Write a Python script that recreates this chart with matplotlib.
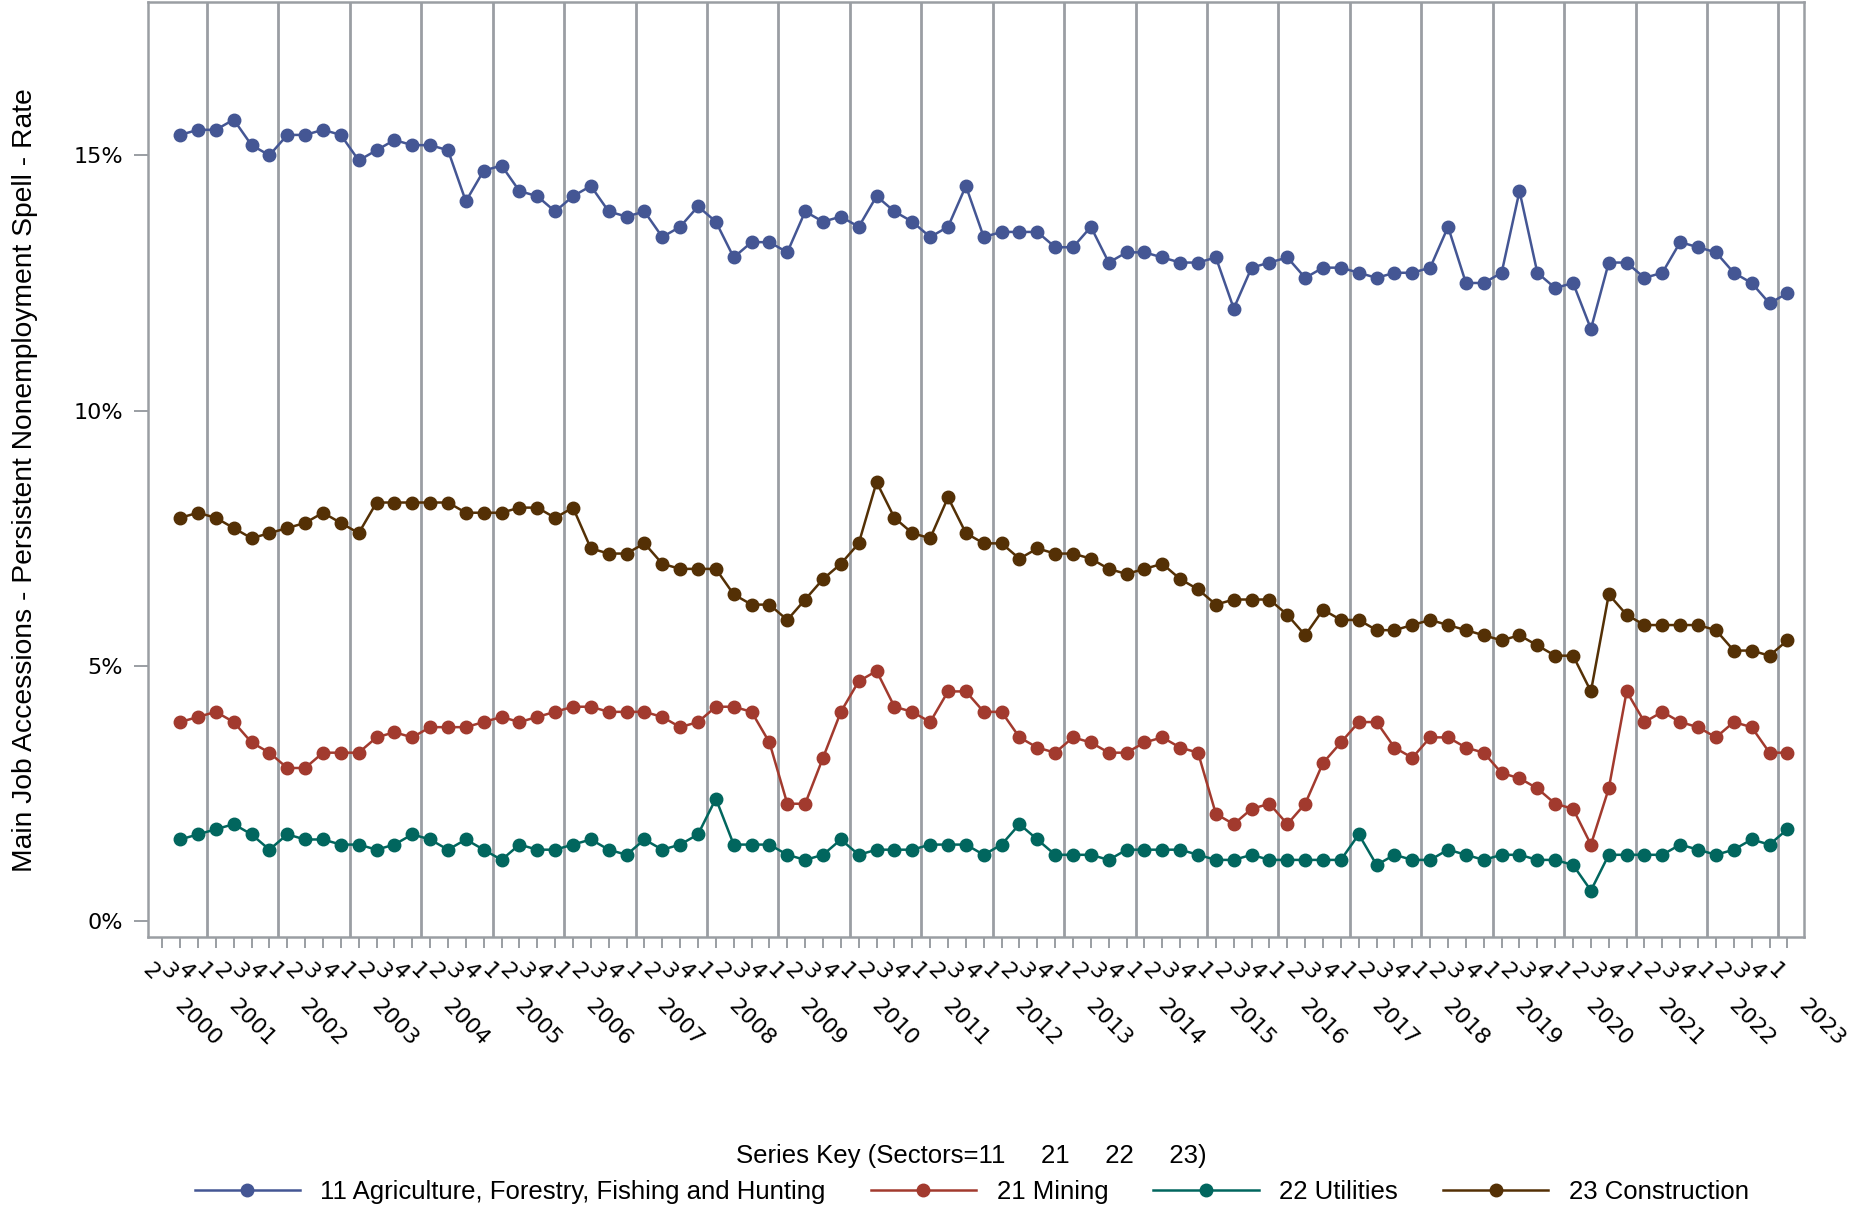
import matplotlib
matplotlib.use('Agg')
import matplotlib.pyplot as plt
from matplotlib.lines import Line2D

# Quarters shown: 2000 Q3 .. 2023 Q1 (axis also carries an empty 2000 Q2 tick)
periods = [(2000, 3), (2000, 4)] + [(y, q) for y in range(2001, 2023) for q in range(1, 5)] + [(2023, 1)]

agri = [15.4, 15.5, 15.5, 15.7, 15.2, 15.0, 15.4, 15.4, 15.5, 15.4, 14.9, 15.1, 15.3, 15.2, 15.2, 15.1,
        14.1, 14.7, 14.8, 14.3, 14.2, 13.9, 14.2,
        14.4, 13.9, 13.8, 13.9, 13.4, 13.6, 14.0, 13.7, 13.0, 13.3, 13.3, 13.1, 13.9, 13.7, 13.8, 13.6,
        14.2, 13.9, 13.7, 13.4, 13.6, 14.4, 13.4, 13.5,
        13.5, 13.5, 13.2, 13.2, 13.6, 12.9, 13.1, 13.1, 13.0, 12.9, 12.9, 13.0, 12.0, 12.8, 12.9, 13.0,
        12.6, 12.8, 12.8, 12.7, 12.6, 12.7, 12.7,
        12.8, 13.6, 12.5, 12.5, 12.7, 14.3, 12.7, 12.4, 12.5, 11.6, 12.9, 12.9, 12.6, 12.7, 13.3, 13.2,
        13.1, 12.7, 12.5, 12.1, 12.3]
mining = [3.9, 4.0, 4.1, 3.9, 3.5, 3.3, 3.0, 3.0, 3.3, 3.3, 3.3, 3.6, 3.7, 3.6, 3.8, 3.8, 3.8, 3.9,
          4.0, 3.9, 4.0, 4.1, 4.2,
          4.2, 4.1, 4.1, 4.1, 4.0, 3.8, 3.9, 4.2, 4.2, 4.1, 3.5, 2.3, 2.3, 3.2, 4.1, 4.7, 4.9, 4.2,
          4.1, 3.9, 4.5, 4.5, 4.1, 4.1,
          3.6, 3.4, 3.3, 3.6, 3.5, 3.3, 3.3, 3.5, 3.6, 3.4, 3.3, 2.1, 1.9, 2.2, 2.3, 1.9, 2.3, 3.1,
          3.5, 3.9, 3.9, 3.4, 3.2,
          3.6, 3.6, 3.4, 3.3, 2.9, 2.8, 2.6, 2.3, 2.2, 1.5, 2.6, 4.5, 3.9, 4.1, 3.9, 3.8, 3.6, 3.9,
          3.8, 3.3, 3.3]
utilities = [1.6, 1.7, 1.8, 1.9, 1.7, 1.4, 1.7, 1.6, 1.6, 1.5, 1.5, 1.4, 1.5, 1.7, 1.6, 1.4, 1.6,
             1.4, 1.2, 1.5, 1.4, 1.4, 1.5,
             1.6, 1.4, 1.3, 1.6, 1.4, 1.5, 1.7, 2.4, 1.5, 1.5, 1.5, 1.3, 1.2, 1.3, 1.6, 1.3, 1.4,
             1.4, 1.4, 1.5, 1.5, 1.5, 1.3, 1.5,
             1.9, 1.6, 1.3, 1.3, 1.3, 1.2, 1.4, 1.4, 1.4, 1.4, 1.3, 1.2, 1.2, 1.3, 1.2, 1.2, 1.2,
             1.2, 1.2, 1.7, 1.1, 1.3, 1.2,
             1.2, 1.4, 1.3, 1.2, 1.3, 1.3, 1.2, 1.2, 1.1, 0.6, 1.3, 1.3, 1.3, 1.3, 1.5, 1.4, 1.3,
             1.4, 1.6, 1.5, 1.8]
construction = [7.9, 8.0, 7.9, 7.7, 7.5, 7.6, 7.7, 7.8, 8.0, 7.8, 7.6, 8.2, 8.2, 8.2, 8.2, 8.2,
                8.0, 8.0, 8.0, 8.1, 8.1, 7.9, 8.1,
                7.3, 7.2, 7.2, 7.4, 7.0, 6.9, 6.9, 6.9, 6.4, 6.2, 6.2, 5.9, 6.3, 6.7, 7.0, 7.4,
                8.6, 7.9, 7.6, 7.5, 8.3, 7.6, 7.4, 7.4,
                7.1, 7.3, 7.2, 7.2, 7.1, 6.9, 6.8, 6.9, 7.0, 6.7, 6.5, 6.2, 6.3, 6.3, 6.3, 6.0,
                5.6, 6.1, 5.9, 5.9, 5.7, 5.7, 5.8,
                5.9, 5.8, 5.7, 5.6, 5.5, 5.6, 5.4, 5.2, 5.2, 4.5, 6.4, 6.0, 5.8, 5.8, 5.8, 5.8,
                5.7, 5.3, 5.3, 5.2, 5.5]

series_names = ['11 Agriculture, Forestry, Fishing and Hunting', '21 Mining',
                '22 Utilities', '23 Construction']
series_colors = ['#445694', '#A23A2E', '#01665E', '#543005']
series_values = [agri, mining, utilities, construction]

grey = '#9A9EA3'
x = list(range(len(periods)))

fig = plt.figure(figsize=(18.59, 12.07), dpi=100)
ax = fig.add_axes([0.0796, 0.2237, 0.8908, 0.7745])

# year separators (before each Q1)
for i, (yr, q) in enumerate(periods):
    if q == 1:
        ax.axvline(i - 0.5, color=grey, lw=2.0, zorder=1)

for vals, col in zip(series_values, series_colors):
    ax.plot(x, vals, color=col, lw=1.8, marker='o', ms=9, zorder=3)

ax.set_xlim(-1.8, len(periods) - 0.07)
ax.set_ylim(-0.31, 18.0)
ax.set_yticks([0, 5, 10, 15])
ax.set_yticklabels(['0%', '5%', '10%', '15%'])

# quarter ticks, including the empty 2000 Q2 slot
tick_pos = [-1] + x
tick_lab = ['2'] + [str(q) for _, q in periods]
ax.set_xticks(tick_pos)
ax.set_xticklabels(tick_lab, rotation=-45, ha='right')

for s in ax.spines.values():
    s.set_color(grey)
    s.set_linewidth(1.8)
ax.tick_params(axis='both', colors=grey, width=1.4, labelcolor='black', labelsize=16)
ax.tick_params(axis='y', length=10, pad=8)
ax.tick_params(axis='x', length=8, pad=8)

# year labels centred under their quarters
years = sorted(set(yr for yr, _ in periods))
for yr in years:
    idx = [i for i, (y2, _) in enumerate(periods) if y2 == yr]
    xc = (idx[0] + idx[-1]) / 2 + 0.5
    if len(idx) == 1:
        xc += 1.4  # pushed right to avoid the previous label
    ax.annotate(str(yr), xy=(xc, 0), xycoords=('data', 'axes fraction'),
                xytext=(0, -42), textcoords='offset points', rotation=-45,
                ha='center', va='top', fontsize=16, annotation_clip=False)

fig.text(0.0132, 0.6023, 'Main Job Accessions - Persistent Nonemployment Spell - Rate',
         rotation=90, ha='center', va='center', fontsize=20.3, family='Liberation Sans')

handles = [Line2D([], [], color=c, lw=1.8, marker='o', ms=9) for c in series_colors]
leg = fig.legend(handles, series_names, loc='lower center', bbox_to_anchor=(0.5227, -0.017),
                 ncol=4, frameon=False, handlelength=4.1, columnspacing=1.75,
                 handletextpad=0.8, title='Series Key (Sectors=11     21     22     23)',
                 prop={'family': 'Liberation Sans', 'size': 18.5})
leg.get_title().set_fontfamily('Liberation Sans')
leg.get_title().set_fontsize(18.5)

fig.savefig('out.png', dpi=100)
